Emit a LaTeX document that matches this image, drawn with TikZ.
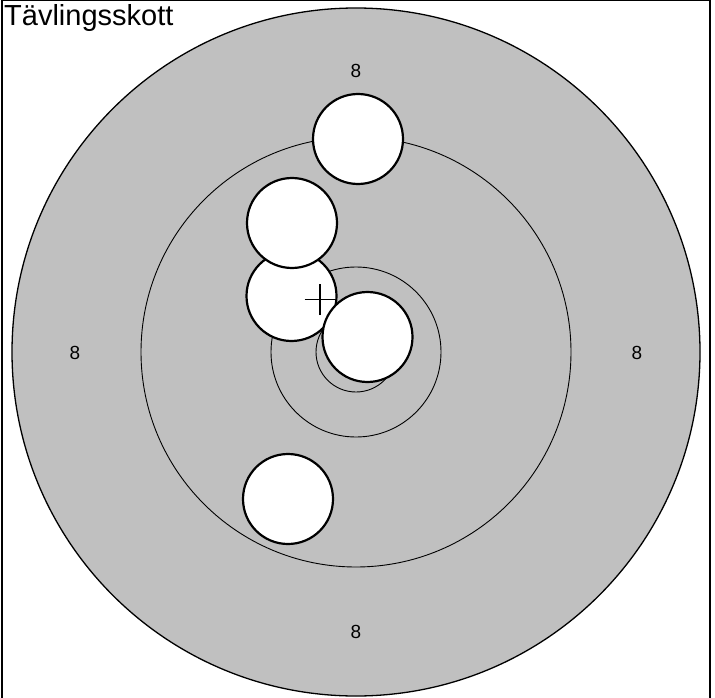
\documentclass[tikz,border=0pt]{standalone}
\usepackage{fontspec}
\setmainfont{Liberation Sans}
\definecolor{targetgray}{RGB}{192,192,192}
\begin{document}
\begin{tikzpicture}[x=1pt,y=-1pt,
  ring/.style={draw=black,line width=0.9pt},
  hole/.style={circle,draw=black,fill=white,line width=2.2pt,minimum size=90pt,inner sep=0pt},
  ringlabel/.style={font=\fontsize{19}{19}\selectfont,inner sep=0pt},
  crossline/.style={draw=black,line width=1.2pt}]
\useasboundingbox (0,0) rectangle (715,698);
\coordinate (c) at (356,352);
\fill[targetgray] (c) circle[radius=344];
\draw[line width=1.3pt] (c) circle[radius=344];
\draw[ring] (c) circle[radius=215];
\draw[ring] (c) circle[radius=85];
\draw[ring] (c) circle[radius=40];
\node[ringlabel] (l1) at (356,71) {8};
\node[ringlabel] (l2) at (75,353) {8};
\node[ringlabel] (l3) at (637,353) {8};
\node[ringlabel] (l4) at (356,632) {8};
\node[hole] (h1) at (358,139) {};
\node[hole] (h3) at (291.5,296) {};
\node[hole] (h2) at (292,223) {};
\node[hole] (h5) at (288,499) {};
\node[hole] (h4) at (367.5,337) {};
\coordinate (cr) at (320,299.5);
\draw[crossline] ([xshift=-15.5pt]cr) -- ([xshift=16.5pt]cr);
\draw[crossline] ([yshift=-15.5pt]cr) -- ([yshift=15.5pt]cr);
\node[anchor=base west,font=\fontsize{29}{29}\selectfont,inner sep=0pt] (title) at (4,26) {Tävlingsskott};
\draw[line width=1.6pt] (2,700) -- (2,0.5) -- (710,0.5) -- (710,700);
\end{tikzpicture}
\end{document}
